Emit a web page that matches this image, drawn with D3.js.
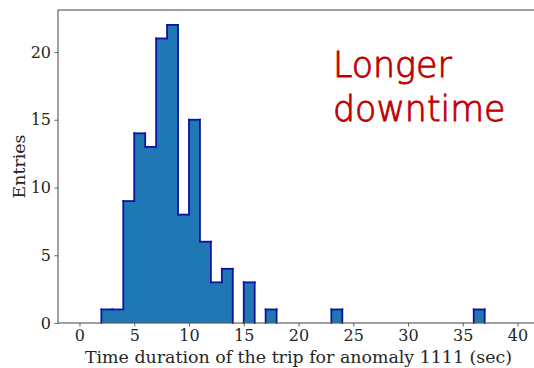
<!DOCTYPE html>
<html>
<head>
<meta charset="utf-8">
<script src="https://cdn.jsdelivr.net/npm/d3@7"></script>
<style>
  html, body { margin: 0; padding: 0; background: #fff; }
  svg { display: block; }
</style>
</head>
<body>
<svg id="chart" width="534" height="368"></svg>
<script>
// Histogram of trip durations: left bin edges (sec) and entry counts, 1-second bins
const binStarts = [2, 3, 4, 5, 6, 7, 8, 9, 10, 11, 12, 13, 14, 15, 16, 17, 18, 19, 20, 21, 22, 23,
                   24, 25, 26, 27, 28, 29, 30, 31, 32, 33, 34, 35, 36];
const counts    = [1, 1, 9, 14, 13, 21, 22, 8, 15, 6, 3, 4, 0, 3, 0, 1, 0, 0, 0, 0, 0, 1,
                   0, 0, 0, 0, 0, 0, 0, 0, 0, 0, 0, 0, 1];
const binWidth = 1;
const xTicks = [0, 5, 10, 15, 20, 25, 30, 35, 40];
const yTicks = [0, 5, 10, 15, 20];
const xLabel = "Time duration of the trip for anomaly 1111 (sec)";
const yLabel = "Entries";
const noteLines = ["Longer", "downtime"];

const svg = d3.select("#chart");
const margin = { left: 58, top: 10, right: -5, bottom: 45 };
const W = 534, H = 368;
const plotW = W - margin.left - margin.right;
const plotH = H - margin.top - margin.bottom;

const x = d3.scaleLinear().domain([-1.96, 41.96]).range([0, plotW]);
const y = d3.scaleLinear().domain([0, 23.1]).range([plotH, 0]);

const g = svg.append("g").attr("transform", `translate(${margin.left},${margin.top})`);

// Step-filled body of the histogram
const pts = [];
binStarts.forEach((b, i) => pts.push([b, counts[i]]));
const last = binStarts[binStarts.length - 1] + binWidth;
pts.push([last, counts[counts.length - 1]]);

const area = d3.area()
  .x(d => x(d[0]))
  .y0(y(0))
  .y1(d => y(d[1]))
  .curve(d3.curveStepAfter);

g.append("path")
  .datum(pts)
  .attr("d", area)
  .attr("fill", "#1f77b4");

// outline drawn as vertical/horizontal segments; zero-height stretches stay on the baseline
const segs = [];
let prev = 0;
binStarts.forEach((b, i) => {
  const c = counts[i];
  segs.push([[b, prev], [b, c]]);
  segs.push([[b, c], [b + binWidth, c]]);
  prev = c;
});
segs.push([[last, prev], [last, 0]]);
g.append("g").selectAll("path")
  .data(segs.filter(s => !(s[0][1] === 0 && s[1][1] === 0)))
  .join("path")
  .attr("d", d3.line().x(d => x(d[0])).y(d => y(d[1])))
  .attr("fill", "none")
  .attr("stroke", "#0a14a0")
  .attr("stroke-width", 1.8)
  .attr("stroke-linecap", "square");

// Axes
const axisColor = "#555";
const xAxis = g.append("g")
  .attr("transform", `translate(0,${plotH})`)
  .call(d3.axisBottom(x).tickValues(xTicks).tickSize(3.5).tickPadding(3.5).tickSizeOuter(0));
const yAxis = g.append("g")
  .call(d3.axisLeft(y).tickValues(yTicks).tickSize(3.5).tickPadding(3.5).tickSizeOuter(0));

[xAxis, yAxis].forEach(a => {
  a.select(".domain").remove();
  a.selectAll(".tick line").attr("stroke", axisColor).attr("stroke-width", 0.9);
  a.selectAll(".tick text")
    .attr("fill", "#262626")
    .style("font-family", "'DejaVu Serif', serif")
    .style("font-size", "16px");
});

// frame
g.append("rect")
  .attr("x", 0).attr("y", 0)
  .attr("width", plotW).attr("height", plotH)
  .attr("fill", "none")
  .attr("stroke", axisColor)
  .attr("stroke-width", 1.1);

// axis titles
svg.append("text")
  .attr("x", margin.left + x(20))
  .attr("y", 363)
  .attr("text-anchor", "middle")
  .attr("fill", "#262626")
  .style("font-family", "'DejaVu Serif', serif")
  .style("font-size", "17.4px")
  .text(xLabel);

svg.append("text")
  .attr("transform", `translate(25,${margin.top + plotH / 2}) rotate(-90)`)
  .attr("text-anchor", "middle")
  .attr("fill", "#262626")
  .style("font-family", "'DejaVu Serif', serif")
  .style("font-size", "17.4px")
  .text(yLabel);

// annotation (light face, lightly stroked for a medium-thin line)
const note = svg.append("text")
  .attr("fill", "#c00000")
  .attr("stroke", "#c00000")
  .attr("stroke-width", 0.9)
  .style("font-family", "'DejaVu Sans', sans-serif")
  .style("font-weight", "200")
  .style("font-size", "34.8px");
noteLines.forEach((t, i) => {
  note.append("tspan")
    .attr("x", 333)
    .attr("y", 77 + i * 44)
    .text(t);
});
</script>
</body>
</html>
